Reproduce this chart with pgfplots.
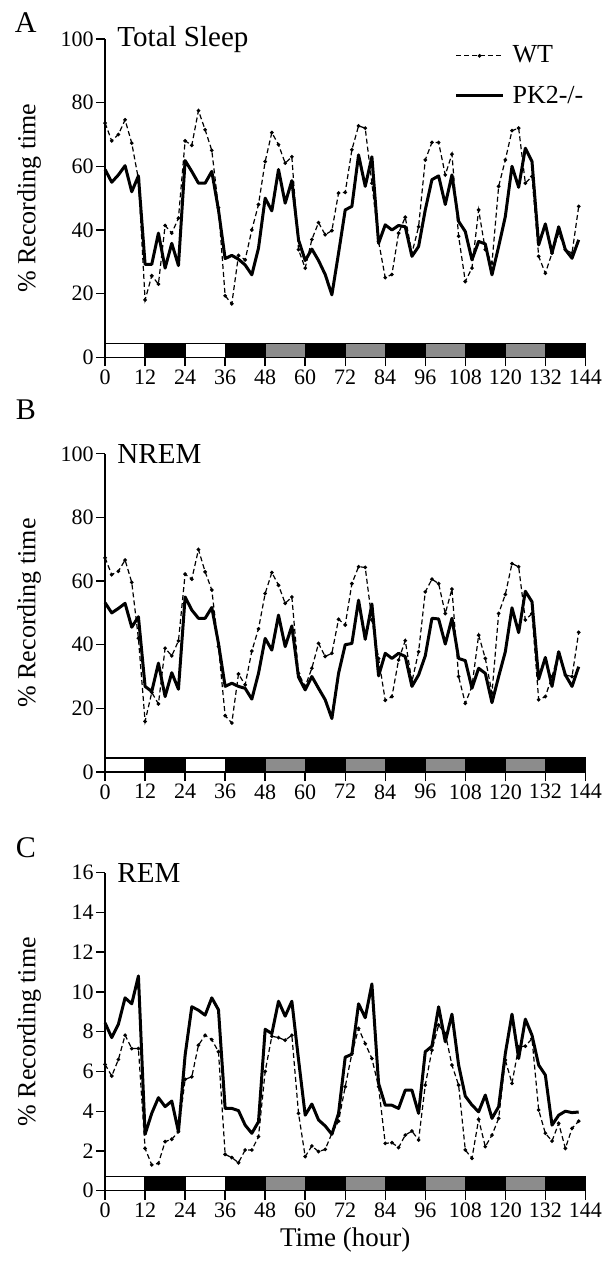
\documentclass[border=0pt]{standalone}
\usepackage{pgfplots}
\usepackage{pgfplotstable}
\pgfplotsset{compat=1.18}
\usepackage{fontspec}
\setmainfont{Liberation Serif}
\definecolor{bargray}{RGB}{140,140,140}

\pgfplotstableread{
h wt pk
0 73.6 59
2 68 55
4 70 57.3
6 74.6 60.2
8 67.3 52
10 56 57
12 18 29.2
14 25.6 29.2
16 23 39
18 41.4 28
20 39 35.8
22 43.7 28.8
24 68 61.8
26 66.6 58.4
28 77.5 54.7
30 71.5 54.7
32 65 58.4
34 47 46.3
36 19.3 31
38 16.8 32
40 32 30.8
42 30.6 29
44 40 25.9
46 48 34.3
48 61.5 50
50 70.6 46
52 66.8 59
54 61 48.4
56 63 55.5
58 33.8 36.9
60 28 30.4
62 37 34
64 42.3 30.4
66 38.5 26
68 39.8 19.6
70 51.6 32.7
72 51.8 46.3
74 65.2 47.4
76 72.7 63.6
78 72 53.7
80 54.7 63
82 36.4 35.8
84 25 41.6
86 26 40
88 39 41.4
90 44 41
92 32.7 31.7
94 41 34.8
96 62 46.3
98 67.5 55.8
100 67.5 57
102 57.3 48
104 63.8 57.3
106 38 42.7
108 23.8 39.5
110 28 30.6
112 46.3 36.4
114 33.8 35.6
116 29.6 25.9
118 53.7 34.8
120 62 44.2
122 71.2 60
124 72 53.4
126 54.7 65.7
128 56.8 61.5
130 31.7 35.3
132 26.4 41.9
134 32.7 32.7
136 39 41
138 33.8 33.8
140 32.7 31.1
142 47.4 36.9
}\tabA

\pgfplotstableread{
h wt pk
0 67.3 53.2
2 62 50
4 63.1 51.4
6 66.6 53
8 59.6 45.5
10 42 48.8
12 15.9 26.9
14 25 25.3
16 21.4 34.2
18 38.9 23.7
20 36.5 31.2
22 41.2 26
24 62.2 55
26 60.6 50.9
28 69.9 48.3
30 62.9 48.3
32 57.2 51.7
34 39.4 40.4
36 17.7 26.9
38 15.4 27.9
40 30.8 26.9
42 27.4 26.3
44 38 22.9
46 45 31
48 56.1 42
50 62.7 38.3
52 58.7 49.3
54 53 39.4
56 55 45.9
58 31 29.8
60 26.9 25.8
62 32.6 30
64 40.4 26.3
66 36.3 22.7
68 37.3 16.8
70 48 31
72 46.2 40
74 59.2 40.4
76 64.5 54
78 64.3 41.7
80 47.8 52.8
82 35.7 30.2
84 22.5 37.3
86 23.7 35.7
88 35.2 37.3
90 41.3 36.3
92 28.4 26.9
94 37.8 30.5
96 56.6 36.5
98 60.6 48.3
100 59.2 48.1
102 49.8 40.2
104 57.5 48.3
106 30 35.7
108 21.6 35
110 26.9 26.3
112 43 32.6
114 35.7 31
116 24.8 21.8
118 49.8 30
120 55.8 37.8
122 65.5 51.6
124 64.5 43.8
126 47.8 56.8
128 49.8 53.5
130 22.7 29.2
132 23.7 36
134 30 26.9
136 37.3 37.8
138 30.5 30.5
140 30 26.9
142 43.9 33.1
}\tabB

\pgfplotstableread{
h wt pk
0 6.35 8.44
2 5.77 7.7
4 6.6 8.38
6 7.82 9.7
8 7.15 9.4
10 7.15 10.8
12 2.13 2.84
14 1.3 3.9
16 1.38 4.68
18 2.47 4.23
20 2.59 4.51
22 2.97 2.97
24 5.6 6.82
26 5.73 9.25
28 7.32 9.08
30 7.82 8.83
32 7.6 9.7
34 6.99 9.1
36 1.83 4.14
38 1.67 4.14
40 1.41 4.03
42 2.05 3.3
44 2.05 2.89
46 2.72 3.47
48 6.0 8.12
50 7.77 7.9
52 7.7 9.53
54 7.57 8.78
56 7.82 9.53
58 3.89 6.6
60 1.72 3.8
62 2.25 4.36
64 1.97 3.56
66 2.08 3.26
68 2.89 2.84
70 3.5 3.89
72 5.23 6.72
74 6.9 6.86
76 8.16 9.4
78 7.4 8.7
80 6.65 10.4
82 5.23 5.4
84 2.38 4.3
86 2.42 4.3
88 2.17 4.14
90 2.8 5.06
92 3.0 5.06
94 2.55 3.89
96 5.31 6.99
98 7.07 7.27
100 8.33 9.25
102 7.9 7.49
104 6.32 8.88
106 5.31 6.32
108 2.05 4.76
110 1.63 4.31
112 3.59 3.97
114 2.22 4.81
116 2.8 3.64
118 3.64 4.23
120 6.57 6.9
122 5.4 8.88
124 7.24 6.65
126 7.27 8.63
128 7.65 7.82
130 4.06 6.32
132 2.89 5.82
134 2.5 3.3
136 3.39 3.8
138 2.13 4.0
140 3.14 3.93
142 3.5 3.96
}\tabC

\newcommand{\lightbars}[1]{%
  \addplot[draw=black, line width=0.6pt, fill=white, forget plot] coordinates {(0,0) (0,#1) (12,#1) (12,0)} --cycle;
  \addplot[draw=black, line width=0.6pt, fill=black, forget plot] coordinates {(12,0) (12,#1) (24,#1) (24,0)} --cycle;
  \addplot[draw=black, line width=0.6pt, fill=white, forget plot] coordinates {(24,0) (24,#1) (36,#1) (36,0)} --cycle;
  \addplot[draw=black, line width=0.6pt, fill=black, forget plot] coordinates {(36,0) (36,#1) (48,#1) (48,0)} --cycle;
  \addplot[draw=black, line width=0.6pt, fill=bargray, forget plot] coordinates {(48,0) (48,#1) (60,#1) (60,0)} --cycle;
  \addplot[draw=black, line width=0.6pt, fill=black, forget plot] coordinates {(60,0) (60,#1) (72,#1) (72,0)} --cycle;
  \addplot[draw=black, line width=0.6pt, fill=bargray, forget plot] coordinates {(72,0) (72,#1) (84,#1) (84,0)} --cycle;
  \addplot[draw=black, line width=0.6pt, fill=black, forget plot] coordinates {(84,0) (84,#1) (96,#1) (96,0)} --cycle;
  \addplot[draw=black, line width=0.6pt, fill=bargray, forget plot] coordinates {(96,0) (96,#1) (108,#1) (108,0)} --cycle;
  \addplot[draw=black, line width=0.6pt, fill=black, forget plot] coordinates {(108,0) (108,#1) (120,#1) (120,0)} --cycle;
  \addplot[draw=black, line width=0.6pt, fill=bargray, forget plot] coordinates {(120,0) (120,#1) (132,#1) (132,0)} --cycle;
  \addplot[draw=black, line width=0.6pt, fill=black, forget plot] coordinates {(132,0) (132,#1) (144,#1) (144,0)} --cycle;
}

\pgfplotsset{
  panel/.style={
    scale only axis, width=240pt, height=159pt,
    xmin=0, xmax=144, xtick={0,12,...,144},
    axis lines*=left, tick align=outside, tick pos=left,
    major tick length=4.5pt,
    axis line style={line width=0.7pt, -},
    every tick/.style={black, line width=0.7pt},
    tick label style={font=\fontsize{11}{13}\selectfont},
    /pgf/number format/assume math mode=true,
    xticklabel style={inner sep=1.5pt},
    yticklabel style={inner sep=1pt},
    ylabel={\% Recording time},
    ylabel style={font=\fontsize{13}{15}\selectfont, at={(axis description cs:-0.158,0.5)}, anchor=center},
    clip=false,
  },
  wtstyle/.style={black, line width=0.6pt, dash pattern=on 2.5pt off 1.5pt, mark=*, mark size=0.6pt, mark options={solid}},
  pkstyle/.style={black, line width=1.5pt, no marks, line join=round},
}
\tikzset{
  ptitle/.style={font=\fontsize{14.5}{16}\selectfont, anchor=west, inner sep=0pt},
  pletter/.style={font=\fontsize{15}{17}\selectfont},
}

\begin{document}
\begin{tikzpicture}
% Panel A
\begin{axis}[panel, at={(0pt,0pt)}, anchor=south west,
  ymin=0, ymax=100, ytick={0,20,...,100},
  legend style={at={(axis description cs:1.0,0.985)}, anchor=north east, draw=none, fill=none,
    font=\fontsize{13}{14}\selectfont, row sep=8pt, column sep=3pt, inner sep=0pt, outer sep=0pt,
    nodes={inner sep=1pt}},
  legend cell align=left,
  legend image code/.code={\draw[mark repeat=2,mark phase=2,#1] plot coordinates {(0pt,0pt) (11.75pt,0pt) (23.5pt,0pt)};},
]
\lightbars{4.4}
\addplot[wtstyle] table[x=h, y=wt] {\tabA};
\addplot[pkstyle] table[x=h, y=pk] {\tabA};
\legend{WT, PK2-/-}
\node[ptitle] at (axis description cs:0.025,1.0) {Total Sleep};
\node[pletter] at (axis description cs:-0.165,1.053) {A};
\end{axis}

% Panel B
\begin{axis}[panel, at={(0pt,-207.25pt)}, anchor=south west,
  ymin=0, ymax=100, ytick={0,20,...,100},
]
\lightbars{4.4}
\addplot[wtstyle] table[x=h, y=wt] {\tabB};
\addplot[pkstyle] table[x=h, y=pk] {\tabB};
\node[ptitle] at (axis description cs:0.025,1.0) {NREM};
\node[pletter] at (axis description cs:-0.165,1.14) {B};
\end{axis}

% Panel C
\begin{axis}[panel, at={(0pt,-416.5pt)}, anchor=south west,
  ymin=0, ymax=16, ytick={0,2,...,16},
  xlabel={Time (hour)},
  xlabel style={font=\fontsize{13.5}{15}\selectfont, at={(axis description cs:0.5,-0.154)}, anchor=center},
]
\lightbars{0.7}
\addplot[wtstyle] table[x=h, y=wt] {\tabC};
\addplot[pkstyle] table[x=h, y=pk] {\tabC};
\node[ptitle] at (axis description cs:0.025,1.0) {REM};
\node[pletter] at (axis description cs:-0.165,1.079) {C};
\end{axis}

\path (-52.5pt,-454.1pt) rectangle (250pt,178.5pt);
\end{tikzpicture}
\end{document}
